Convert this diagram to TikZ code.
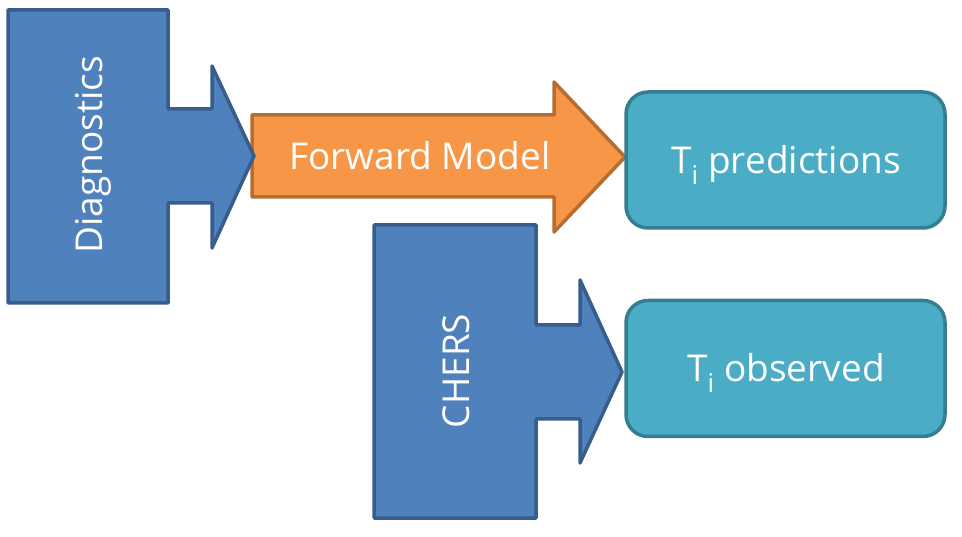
\documentclass[tikz,border=0pt]{standalone}
\usepackage{fontspec}
\setmainfont{Open Sans}
\usetikzlibrary{positioning}

\definecolor{blockblue}{HTML}{4F81BD}
\definecolor{blockblueline}{HTML}{385D8A}
\definecolor{modelorange}{HTML}{F79646}
\definecolor{modelorangeline}{HTML}{B66D31}
\definecolor{resultteal}{HTML}{4BACC6}
\definecolor{resulttealline}{HTML}{357D91}

\begin{document}
\begin{tikzpicture}[x=1pt,y=-1pt,line width=3.5pt,line join=round,
    label text/.style={text=white,font=\fontsize{37}{44}\selectfont,inner sep=0pt,anchor=base},
    result/.style={draw=resulttealline,fill=resultteal,rounded corners=22pt,
        minimum width=319pt,minimum height=136pt}]
    \useasboundingbox (0,0) rectangle (962,537);
    % forward model arrow
    \draw[draw=modelorangeline,fill=modelorange] (252,115) -- (554,115) -- (554,82)
        -- (625,157) -- (554,232) -- (554,197) -- (252,197) -- cycle;
    % diagnostics block
    \draw[draw=blockblueline,fill=blockblue] (8,10) -- (168,10) -- (168,109)
        -- (212,109) -- (212,66) -- (254,156) -- (212,248) -- (212,203)
        -- (168,203) -- (168,303) -- (8,303) -- cycle;
    % CHERS block
    \draw[draw=blockblueline,fill=blockblue] (374,225) -- (536,225) -- (536,325)
        -- (580,325) -- (580,280) -- (622,372) -- (580,463) -- (580,419)
        -- (536,419) -- (536,518) -- (374,518) -- cycle;
    % result boxes
    \node (predbox) [result] at (785.5,160) {};
    \node (obsbox) [result] at (785.5,368.5) {};
    \node (diag) [label text,rotate=90] at (102,155) {Diagnostics};
    \node (model) [label text] at (420,170) {Forward Model};
    \node (chers) [label text,rotate=90] at (469,371) {CHERS};
    \node (pred) [label text] at (786,174) {T\textsubscript{i} predictions};
    \node (obs) [label text] at (786,382) {T\textsubscript{i} observed};
\end{tikzpicture}
\end{document}
